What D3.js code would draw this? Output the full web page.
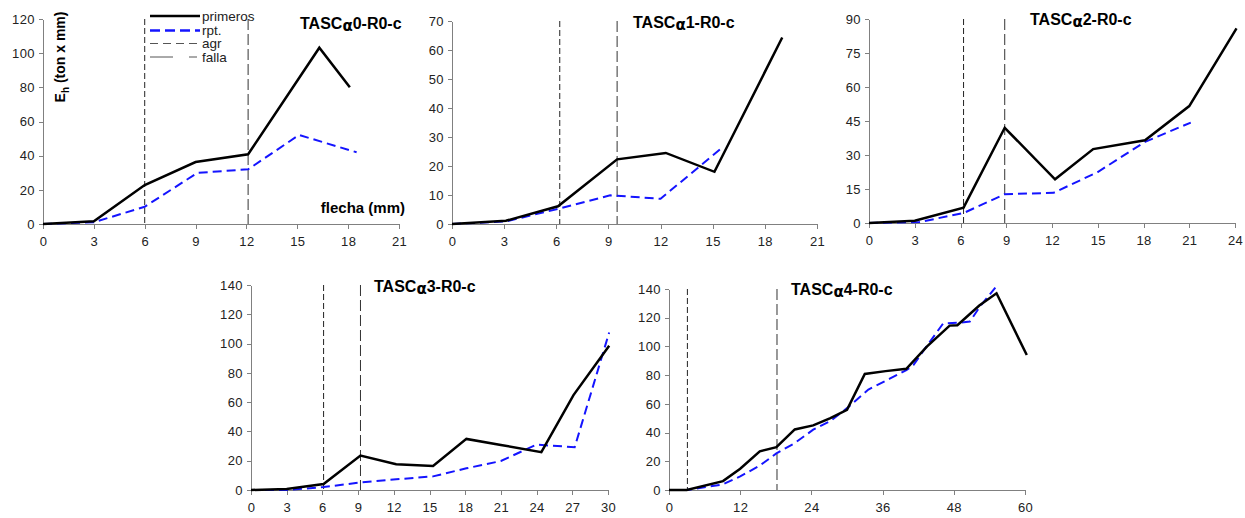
<!DOCTYPE html>
<html lang="es">
<head>
<meta charset="UTF-8">
<title>TASC Eh vs flecha</title>
<script src="https://cdn.jsdelivr.net/npm/d3@7/dist/d3.min.js"></script>
<style>
    body { margin: 0; background: #fff; }
    svg { display: block; font-family: "Liberation Sans", Arial, sans-serif; }
    .axis path, .axis line { stroke: #808080; shape-rendering: crispEdges; }
    .axis text { fill: #222; font-size: 13px; letter-spacing: 0.4px; }
</style>
</head>
<body>
<svg id="chart" width="1245" height="518"></svg>
<script>
// data: [flecha (mm), Eh (ton x mm)]
var p0Primeros = [[0,0],[3,1.6],[6,22.8],[9,36.3],[12.1,40.8],[16.3,103.2],[18.1,80]];
var p0Rpt      = [[0,0],[3,1],[6,10.1],[9.1,29.9],[12.1,32],[15.1,52.1],[18.5,42]];
var p1Primeros = [[0,0],[3.1,1.1],[6.1,6.1],[9.5,22.3],[12.3,24.5],[15.1,18],[19,64.3]];
var p1Rpt      = [[0,0],[3.1,0.9],[6.1,5.2],[9.1,9.9],[12,8.7],[15.5,26.1]];
var p2Primeros = [[0,0],[3,1],[6.2,6.8],[8.9,42],[12.2,19.3],[14.7,32.6],[18.1,36.5],[21,51.6],[24.1,85.9]];
var p2Rpt      = [[0,0],[3.3,0.4],[6.2,4.4],[8.9,12.7],[12.1,13.3],[15,22.5],[18.1,35.8],[21.1,44.3]];
var p3Primeros = [[0,0],[3,0.7],[6.1,4.1],[9.2,23.5],[12.2,17.6],[15.3,16.4],[18.1,34.9],[21,30.8],[24.4,25.8],[27.1,64.8],[30.1,98.5]];
var p3Rpt      = [[0,0],[3,0],[6.1,2],[9.2,5.2],[12.2,7.3],[15.3,9.3],[18.1,14.8],[21,19.8],[24,31],[27.2,29.2],[30.1,107.6]];
var p4Primeros = [[0,0],[3,0],[9.1,6.2],[12,14.8],[15.3,26.9],[18.1,29.8],[21.2,42.2],[24.3,45],[27.2,50],[30,55.8],[33,80.8],[36.5,82.8],[40,84.4],[43.5,100],[47.3,114.5],[48.6,114.8],[52.3,128.5],[55.2,137],[60.3,94]];
var p4Rpt      = [[0,0],[3,0],[9,3.8],[12,9.5],[15.3,17],[18.1,25.5],[21.2,32.7],[24.3,42],[27.2,48],[30,57],[33.6,70],[37.2,77.5],[40,83.5],[41.2,87],[43.4,100],[46.2,116],[49,116.6],[50.7,117.3],[52.4,127.7],[55,141]];

// vertical markers: [agr, falla]
var markers = [[6, 12.1], [6.2, 9.5], [6.2, 8.9], [6.1, 9.2], [3.1, 18.2]];

var titles = ['0', '1', '2', '3', '4'];
var xTicks = [d3.range(0, 22, 3), d3.range(0, 22, 3), d3.range(0, 25, 3), d3.range(0, 31, 3), d3.range(0, 61, 12)];
var yTicks = [d3.range(0, 121, 20), d3.range(0, 71, 10), d3.range(0, 91, 15), d3.range(0, 141, 20), d3.range(0, 141, 20)];

var legendItems = ['primeros', 'rpt.', 'agr', 'falla'];

// layout of each panel (pixel box + title origin)
var panels = [
    { x0: 43,  x1: 399,  y0: 19,  y1: 224, tx: 300,  ty: 29,  primeros: p0Primeros, rpt: p0Rpt },
    { x0: 452, x1: 817,  y0: 21,  y1: 224, tx: 633,  ty: 28,  primeros: p1Primeros, rpt: p1Rpt },
    { x0: 869, x1: 1235, y0: 19,  y1: 223, tx: 1030, ty: 25,  primeros: p2Primeros, rpt: p2Rpt },
    { x0: 251, x1: 608,  y0: 285, y1: 490, tx: 374,  ty: 292, primeros: p3Primeros, rpt: p3Rpt },
    { x0: 669, x1: 1025, y0: 289, y1: 490, tx: 791,  ty: 295, primeros: p4Primeros, rpt: p4Rpt }
];

var svg = d3.select('#chart');

panels.forEach(function (p, i) {
    var xt = xTicks[i], yt = yTicks[i];
    var x = d3.scaleLinear().domain([xt[0], xt[xt.length - 1]]).range([p.x0, p.x1]);
    var y = d3.scaleLinear().domain([yt[0], yt[yt.length - 1]]).range([p.y1, p.y0]);
    var g = svg.append('g');

    g.append('g').attr('class', 'axis')
        .attr('transform', 'translate(0,' + p.y1 + ')')
        .call(d3.axisBottom(x).tickValues(xt).tickSize(5).tickSizeOuter(0).tickPadding(8));
    g.append('g').attr('class', 'axis')
        .attr('transform', 'translate(' + p.x0 + ',0)')
        .call(d3.axisLeft(y).tickValues(yt).tickSize(4).tickSizeOuter(0).tickPadding(4));

    // agr / falla markers
    g.append('line')
        .attr('x1', x(markers[i][0])).attr('x2', x(markers[i][0]))
        .attr('y1', p.y0).attr('y2', p.y1)
        .attr('stroke', '#222').attr('stroke-width', 1).attr('stroke-dasharray', '6,3');
    g.append('line')
        .attr('x1', x(markers[i][1])).attr('x2', x(markers[i][1]))
        .attr('y1', p.y0).attr('y2', p.y1)
        .attr('stroke', '#333').attr('stroke-width', 1).attr('stroke-dasharray', '11,4');

    var line = d3.line().x(function (d) { return x(d[0]); }).y(function (d) { return y(d[1]); });

    g.append('path').datum(p.rpt)
        .attr('d', line).attr('fill', 'none')
        .attr('stroke', '#1414ff').attr('stroke-width', 2).attr('stroke-dasharray', '9,5');
    g.append('path').datum(p.primeros)
        .attr('d', line).attr('fill', 'none')
        .attr('stroke', '#000').attr('stroke-width', 2.5).attr('stroke-linejoin', 'miter');

    // title
    var t = g.append('text')
        .attr('x', p.tx).attr('y', p.ty)
        .attr('font-size', '16px').attr('font-weight', 'bold').attr('fill', '#000');
    t.append('tspan').text('TASC');
    t.append('tspan').attr('dy', 2).attr('font-family', '"DejaVu Sans", sans-serif').attr('font-size', '15px').text('α');
    t.append('tspan').attr('dy', -2).text(titles[i] + '-R0-c');
});

// axis titles (first panel only)
var yl = svg.append('text')
    .attr('transform', 'translate(65,57) rotate(-90)')
    .attr('text-anchor', 'middle')
    .attr('font-size', '14px').attr('font-weight', 'bold').attr('fill', '#000');
yl.append('tspan').text('E');
yl.append('tspan').attr('dy', 4).attr('font-size', '10px').text('h');
yl.append('tspan').attr('dy', -4).text(' (ton x mm)');

svg.append('text')
    .attr('x', 405).attr('y', 213)
    .attr('text-anchor', 'end')
    .attr('font-size', '15px').attr('font-weight', 'bold').attr('fill', '#000')
    .text('flecha (mm)');

// legend
var legendStyle = [
    { stroke: '#000', width: 2.5, dash: null },
    { stroke: '#1414ff', width: 2.5, dash: '10,5' },
    { stroke: '#555', width: 1, dash: '8,5' },
    { stroke: '#555', width: 1, dash: '23,16,8,3' }
];
var legendY = [16, 30.5, 43.5, 57];
var legend = svg.append('g');
legendItems.forEach(function (name, i) {
    var s = legendStyle[i];
    legend.append('line')
        .attr('x1', 150).attr('x2', 200)
        .attr('y1', legendY[i]).attr('y2', legendY[i])
        .attr('stroke', s.stroke).attr('stroke-width', s.width)
        .attr('stroke-dasharray', s.dash);
    legend.append('text')
        .attr('x', 202).attr('y', legendY[i] + 4.5)
        .attr('font-size', '13.5px').attr('fill', '#222')
        .text(name);
});
</script>
</body>
</html>
